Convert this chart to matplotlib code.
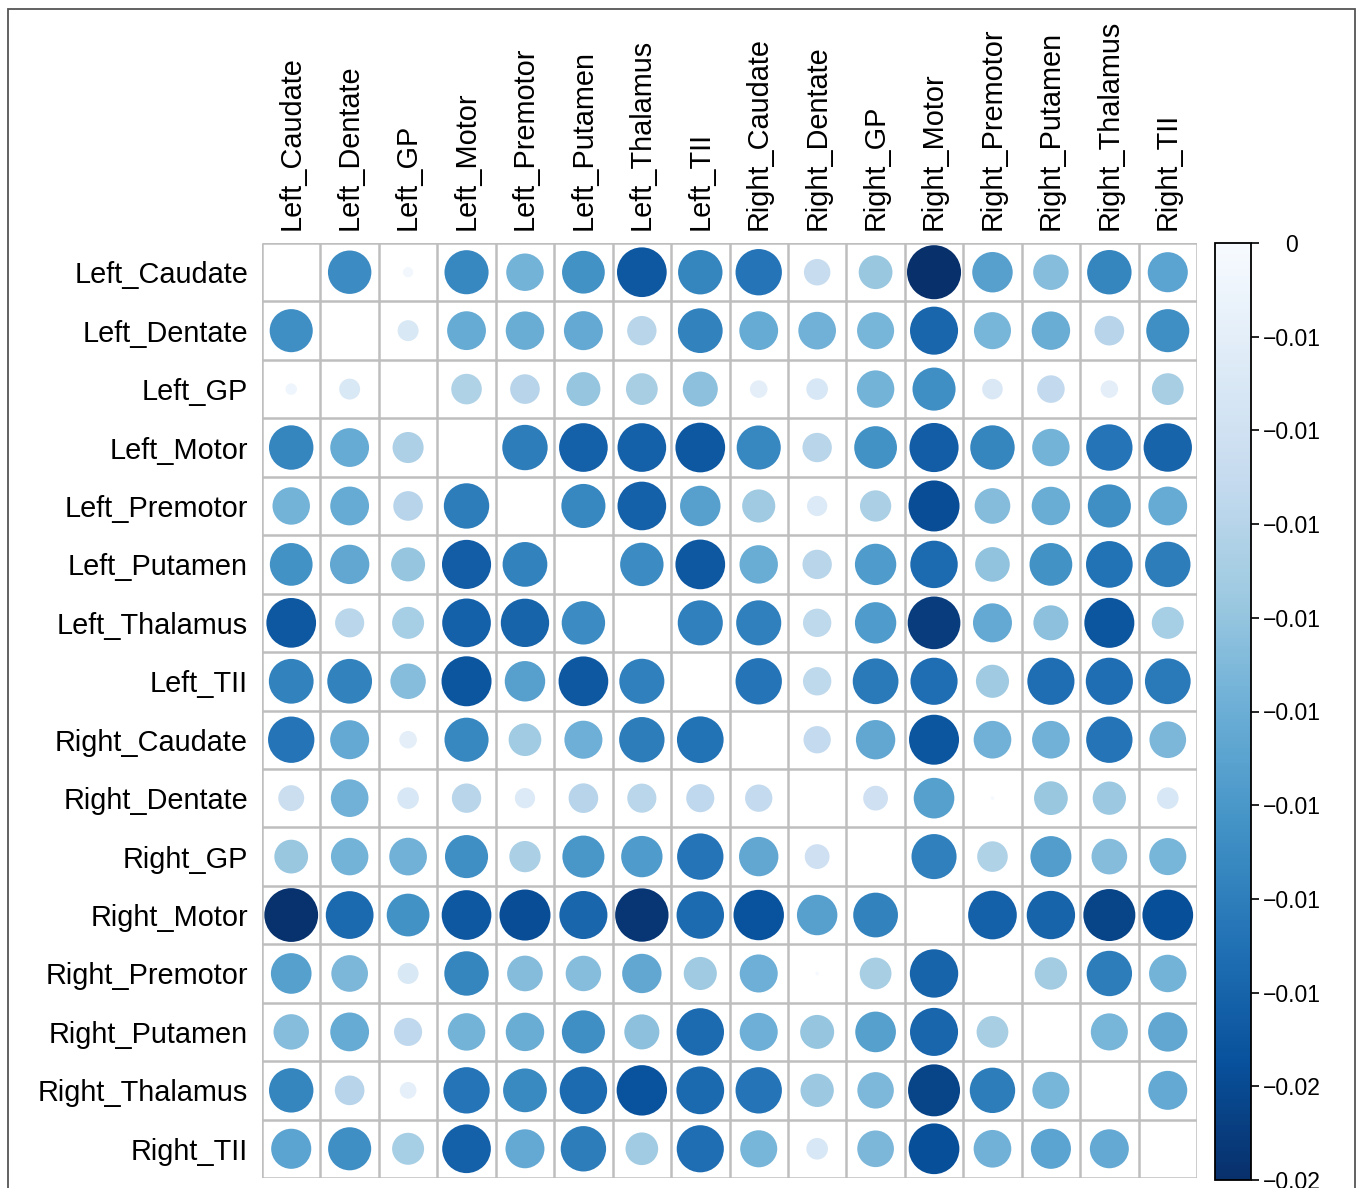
import numpy as np
import matplotlib
matplotlib.use("Agg")
import matplotlib.pyplot as plt
from matplotlib.patches import Circle, Rectangle
from matplotlib.colors import Normalize
from matplotlib.cm import ScalarMappable

plt.rcParams['font.family'] = ['Liberation Sans', 'DejaVu Sans']

regions = ["Left_Caudate", "Left_Dentate", "Left_GP", "Left_Motor", "Left_Premotor",
           "Left_Putamen", "Left_Thalamus", "Left_TII", "Right_Caudate", "Right_Dentate",
           "Right_GP", "Right_Motor", "Right_Premotor", "Right_Putamen", "Right_Thalamus",
           "Right_TII"]

nan = np.nan
# pairwise values, in units of 1e-3 (all negative), diagonal left empty
values_e3 = -np.array([
    [nan, 12.9, 0.7, 13.3, 9.6, 12.5, 16.9, 13.5, 14.7, 4.8, 7.8, 20.0, 11.2, 8.6, 13.5, 11.0],
    [12.7, nan, 3.0, 10.3, 10.1, 10.4, 5.9, 13.7, 10.3, 9.7, 9.4, 15.8, 9.4, 10.1, 6.0, 12.7],
    [0.9, 3.0, nan, 6.4, 6.0, 7.9, 6.9, 8.4, 2.1, 3.2, 9.6, 12.7, 2.9, 5.2, 2.1, 6.9],
    [13.5, 10.3, 6.6, nan, 14.1, 16.2, 16.2, 16.9, 13.3, 5.9, 12.5, 16.5, 13.5, 9.6, 14.7, 16.0],
    [9.6, 10.3, 6.0, 14.1, nan, 13.3, 16.2, 11.2, 7.5, 2.8, 6.7, 17.8, 8.7, 10.1, 12.7, 10.3],
    [12.5, 10.6, 7.9, 16.5, 13.7, nan, 12.9, 16.9, 10.1, 5.9, 11.7, 15.4, 8.2, 12.5, 14.9, 14.1],
    [16.9, 5.8, 7.0, 16.2, 16.0, 12.9, nan, 13.9, 13.9, 5.5, 11.7, 19.0, 10.4, 8.4, 17.1, 7.0],
    [13.7, 13.7, 8.6, 17.1, 11.2, 16.9, 13.9, nan, 14.7, 5.5, 14.3, 15.2, 7.5, 15.2, 15.2, 14.3],
    [14.7, 10.4, 2.1, 13.3, 7.3, 9.9, 14.1, 14.9, nan, 5.1, 10.6, 17.1, 9.7, 9.7, 14.7, 9.2],
    [4.6, 9.7, 3.2, 5.9, 2.8, 6.0, 5.8, 5.4, 5.1, nan, 4.2, 11.3, 0.1, 7.8, 7.6, 3.2],
    [7.8, 9.6, 9.7, 12.7, 6.7, 12.1, 11.7, 14.7, 10.6, 4.2, nan, 13.9, 6.4, 11.5, 8.7, 9.4],
    [19.8, 15.6, 12.5, 16.9, 17.8, 15.8, 19.5, 15.4, 17.4, 11.2, 13.7, nan, 16.2, 16.0, 18.5, 17.6],
    [11.3, 9.2, 3.0, 13.5, 8.7, 8.6, 10.6, 7.5, 9.9, 0.1, 6.9, 16.0, nan, 7.2, 14.1, 9.6],
    [8.6, 10.3, 5.4, 9.6, 10.1, 12.7, 8.4, 15.4, 9.9, 7.9, 11.3, 15.8, 6.9, nan, 9.4, 10.6],
    [13.5, 6.0, 1.9, 14.7, 13.1, 15.4, 17.4, 15.6, 14.7, 7.6, 9.1, 18.5, 14.1, 9.4, nan, 10.4],
    [11.0, 12.7, 7.0, 16.2, 10.4, 14.1, 7.3, 15.2, 9.4, 3.2, 9.2, 17.6, 9.7, 11.0, 10.4, nan],
])
values = values_e3 * 1e-3

cbar_min, cbar_max = -0.02, 0.0
cbar_ticks = np.linspace(cbar_min, cbar_max, 11)
cbar_labels = ["\u22120.02", "\u22120.02", "\u22120.01", "\u22120.01", "\u22120.01",
               "\u22120.01", "\u22120.01", "\u22120.01", "\u22120.01", "\u22120.01", "0"]

W, H = 1357, 1188
fig = plt.figure(figsize=(W / 100, H / 100), dpi=100)

cmap = plt.get_cmap("Blues_r")
norm = Normalize(vmin=cbar_min, vmax=cbar_max)

# matrix panel
ax = fig.add_axes([262 / W, 1 - 1178 / H, 935 / W, 935 / H])
n = len(regions)
ax.set_xlim(0, n)
ax.set_ylim(n, 0)
ax.set_aspect("equal")

grid_col = "#bebebe"
for k in range(n + 1):
    ax.plot([0, n], [k, k], color=grid_col, lw=1.8, solid_capstyle="butt", zorder=1)
    ax.plot([k, k], [0, n], color=grid_col, lw=1.8, solid_capstyle="butt", zorder=1)

span = abs(cbar_min - cbar_max)
for i in range(n):
    for j in range(n):
        v = values[i, j]
        if np.isnan(v):
            continue
        r = 0.4625 * np.sqrt(abs(v) / span)
        ax.add_patch(Circle((j + 0.5, i + 0.5), r, facecolor=cmap(norm(v)),
                            edgecolor="none", zorder=2))

ax.set_xticks(np.arange(n) + 0.5)
ax.set_yticks(np.arange(n) + 0.5)
ax.set_xticklabels(regions, rotation=90, fontsize=20.8)
ax.set_yticklabels(regions, fontsize=20.8)
ax.xaxis.tick_top()
ax.tick_params(axis="x", length=0, pad=9)
ax.tick_params(axis="y", length=0, pad=10)
for s in ax.spines.values():
    s.set_visible(False)

# colour legend
cax = fig.add_axes([1215 / W, 1 - 1180 / H, 36 / W, 937 / H])
sm = ScalarMappable(norm=norm, cmap=cmap)
cb = fig.colorbar(sm, cax=cax, orientation="vertical")
cb.set_ticks(cbar_ticks)
cb.set_ticklabels(cbar_labels)
cb.outline.set_linewidth(1.3)
cb.outline.set_edgecolor("black")
cax.tick_params(axis="y", length=6, width=1.2, labelsize=16.5, pad=23.5, direction="out")
for lab in cax.get_yticklabels():
    lab.set_horizontalalignment("center")

# outer frame
fig.patches.append(Rectangle((7.5 / W, -0.05), (1355 - 7.5) / W, 1 - 9 / H + 0.05,
                             transform=fig.transFigure, fill=False,
                             edgecolor="#555555", lw=1.3))

fig.savefig("out.png", dpi=100)
